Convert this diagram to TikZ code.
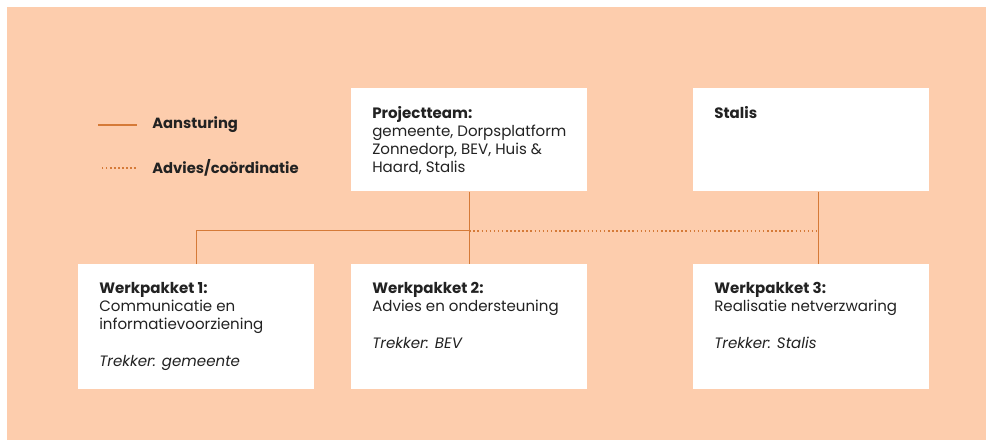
\documentclass[tikz,border=0pt]{standalone}
\usepackage{fontspec}
\setmainfont{Poppins}
\usepackage{xcolor}
\usepackage{tikz}
\usetikzlibrary{positioning, calc}
\definecolor{perzik}{HTML}{FDCDAD}
\definecolor{oranje}{HTML}{D57A38}
\definecolor{tekst}{HTML}{222222}
\newcommand{\vakje}[2]{\hspace{0.525cm}\parbox[t][#1][t]{5.375cm}{\raggedright\vspace*{0.46cm}#2}}

\begin{document}
\begin{tikzpicture}[x=0.025cm, y=-0.025cm,
    vak/.style={fill=white, anchor=north west, inner sep=0pt, text=tekst,
      font=\fontsize{10.7}{12.8}\selectfont},
    legenda/.style={anchor=west, inner sep=0pt, text=tekst,
      font=\fontsize{10.5}{12.8}\selectfont\bfseries},
    lijn/.style={draw=oranje, line width=0.9pt},
    stippel/.style={draw=oranje, line width=1.2pt, dash pattern=on 1.1pt off 1.8pt}]
    \useasboundingbox (0,0) rectangle (986,440);
    \fill[perzik] (7,7) rectangle (986,440);

    % legenda
    \node[legenda] (aansturing) at (152,125) {Aansturing};
    \node[legenda] (advies) at (152,168) {Advies/coördinatie};
    \draw[lijn] ([xshift=-0.375cm]aansturing.west) -- ++(-39,0);
    \draw[stippel] ([xshift=-0.4cm]advies.west) -- ++(-35,0);

    % bovenste rij
    \node[vak] (pt) at (351,88) {\vakje{2.575cm}{%
      \textbf{Projectteam:}\\
      gemeente, Dorpsplatform\\
      Zonnedorp, BEV, Huis \&\\
      Haard, Stalis}};
    \node[vak] (stalis) at (693,88) {\vakje{2.575cm}{\textbf{Stalis}}};

    % werkpakketten
    \node[vak] (wp1) at (78,264) {\vakje{3.125cm}{%
      \textbf{Werkpakket 1:}\\
      Communicatie en\\
      informatievoorziening\\[13pt]
      \textit{Trekker: gemeente}}};
    \node[vak] (wp2) at (351,264) {\vakje{3.125cm}{%
      \textbf{Werkpakket 2:}\\
      Advies en ondersteuning\\[13pt]
      \textit{Trekker: BEV}}};
    \node[vak] (wp3) at (693,264) {\vakje{3.125cm}{%
      \textbf{Werkpakket 3:}\\
      Realisatie netverzwaring\\[13pt]
      \textit{Trekker: Stalis}}};

    % verbindingen
    \coordinate (knoop) at ($(pt.south)!0.54!(wp2.north)$);
    \coordinate (staliskn) at ($(stalis.south)!0.54!(wp3.north)$);
    \draw[lijn] (pt) -- (wp2);
    \draw[lijn] (wp1.north) |- (knoop);
    \draw[lijn] ([xshift=0.175cm]stalis.south) -- ([xshift=0.175cm]wp3.north);
    \draw[stippel] (knoop) -- ([xshift=0.175cm]staliskn);
\end{tikzpicture}
\end{document}
